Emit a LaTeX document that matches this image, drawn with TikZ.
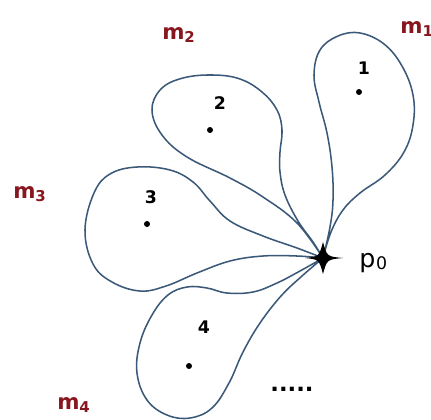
\documentclass[tikz,border=0pt]{standalone}
\usepackage{fontspec}
\setmainfont{DejaVu Sans}
\definecolor{loopcol}{RGB}{58,88,120}
\definecolor{mred}{RGB}{135,22,30}
\tikzset{
  loopline/.style={draw=loopcol, line width=1.15pt, smooth, tension=0.65},
  numlabel/.style={font=\fontsize{13}{14}\selectfont\bfseries, text=black, inner sep=0},
  mlabel/.style={font=\fontsize{16}{18}\selectfont\bfseries, text=mred, inner sep=0, anchor=base west},
  pt/.style={circle, fill=black, inner sep=0, minimum size=4.5pt}
}
\begin{document}
\begin{tikzpicture}[x=0.75pt,y=-0.75pt]
\useasboundingbox (0,0) rectangle (431,419);
\coordinate (p0) at (323,258);

% loop 1
\draw[loopline] plot coordinates {(323,258) (330,227) (333,200) (332,167) (327,133) (319,102) (314,75) (320,50) (338,36) (360,33) (384,44) (402,66) (413,95) (413,125) (404,152) (385,175) (360,193) (343,210) (331,232) (323,258)};

% loop 2
\draw[loopline] plot coordinates {(323,258) (297,223) (263,197) (230,178) (187,157) (162,135) (152,110) (161,89) (183,78) (213,75) (240,79) (262,92) (277,110) (282,130) (280,152) (280,172) (285,195) (298,221) (313,242) (323,258)};

% loop 3
\draw[loopline] plot coordinates {(323,258) (297,248) (263,236) (230,221) (210,201) (193,182) (170,170) (137,167) (110,174) (94,193) (85,230) (93,264) (112,282) (140,291) (166,286) (197,273) (230,261) (263,256) (297,256) (323,258)};

% loop 4
\draw[loopline] plot coordinates {(323,258) (300,271) (277,283) (253,292) (227,293) (207,288) (187,287) (168,295) (152,315) (140,343) (137,373) (147,400) (167,415) (190,418) (212,408) (229,383) (243,352) (260,323) (281,296) (302,276) (323,258)};

% star at p0
\fill[black] (343,258) .. controls (327,256.5) .. (323,242) .. controls (319,256.5) .. (305,258) .. controls (319,259.5) .. (323,274) .. controls (327,259.5) .. cycle;

% points
\node[pt] (d1) at (359,92) {};
\node[pt] (d2) at (210,130) {};
\node[pt] (d3) at (147,224) {};
\node[pt] (d4) at (189,366) {};

\node[numlabel] (n1) at (364,68) {1};
\node[numlabel] (n2) at (220,103) {2};
\node[numlabel] (n3) at (151,197) {3};
\node[numlabel] (n4) at (204,327) {4};

% p0 label
\node[font=\fontsize{19}{20}\selectfont, inner sep=0, anchor=base west] (lp) at (359,267) {p\kern0.5pt\raisebox{-1.5pt}{\fontsize{13}{14}\selectfont 0}};

% m labels
\node[mlabel] (m1) at (400,33) {m\textsubscript{1}};
\node[mlabel] (m2) at (162,39) {m\textsubscript{2}};
\node[mlabel] (m3) at (13,198) {m\textsubscript{3}};
\node[mlabel] (m4) at (57,409) {m\textsubscript{4}};

% dots
\node[font=\fontsize{17}{18}\selectfont\bfseries, inner sep=0] (etc) at (292,389) {.....};
\end{tikzpicture}
\end{document}
